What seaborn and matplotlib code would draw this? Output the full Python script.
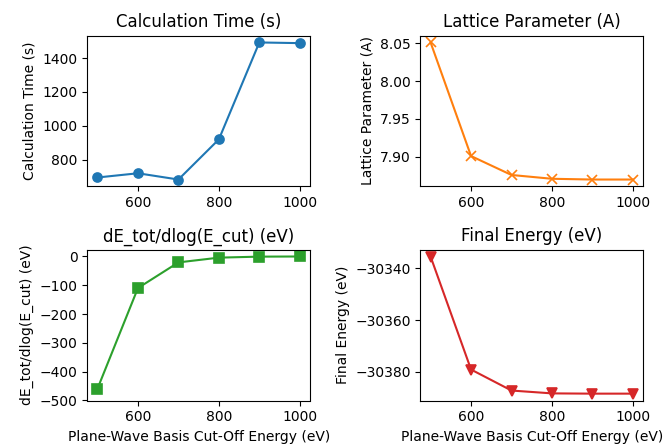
import matplotlib
matplotlib.use("Agg")
import matplotlib.pyplot as plt
from matplotlib.ticker import MultipleLocator
import seaborn as sns
import pandas as pd

cutoff = [500, 600, 700, 800, 900, 1000]
calc_time = [695, 720, 683, 920, 1492, 1488]
lattice = [8.051, 7.901, 7.876, 7.871, 7.870, 7.870]
de_dlog = [-459, -110, -21, -4.5, -1, -0.5]
final_energy = [-30335.5, -30379.1, -30387.2, -30388.3, -30388.4, -30388.4]

df = pd.DataFrame({"cutoff": cutoff, "time": calc_time, "lat": lattice,
                   "de": de_dlog, "fe": final_energy})

fig, axes = plt.subplots(2, 2, figsize=(6.67, 4.45), dpi=100)
specs = [
    ("time", "Calculation Time (s)", "o", "C0"),
    ("lat", "Lattice Parameter (A)", "x", "C1"),
    ("de", "dE_tot/dlog(E_cut) (eV)", "s", "C2"),
    ("fe", "Final Energy (eV)", "v", "C3"),
]
for ax, (col, title, mk, c) in zip(axes.flat, specs):
    sns.lineplot(data=df, x="cutoff", y=col, marker=mk, color=c, ax=ax,
                 markersize=6.5, markeredgecolor=c, markeredgewidth=1.2)
    ax.set_title(title)
    ax.set_ylabel(title)
    ax.set_xlabel("")
axes[1, 0].set_ylim(-500, 23)
axes[1, 0].yaxis.set_major_locator(MultipleLocator(100))
for ax in axes[1]:
    ax.set_xlabel("Plane-Wave Basis Cut-Off Energy (eV)")
fig.subplots_adjust(left=0.131, right=0.964, top=0.920, bottom=0.100,
                    wspace=0.497, hspace=0.42)
fig.savefig("out.png", dpi=100)
